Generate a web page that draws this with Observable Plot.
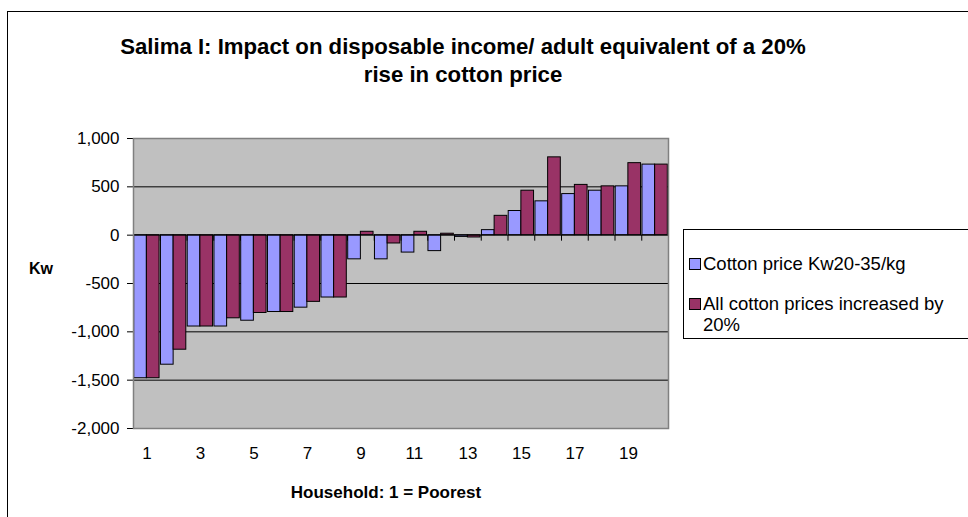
<!DOCTYPE html>
<html>
<head>
<meta charset="utf-8">
<script src="https://cdn.jsdelivr.net/npm/d3@7"></script>
<script src="https://cdn.jsdelivr.net/npm/@observablehq/plot@0.6"></script>
<style>
  html, body { margin: 0; padding: 0; background: #fff; }
  #chart { position: relative; width: 968px; height: 517px; overflow: hidden; font-family: "Liberation Sans", Arial, sans-serif; color: #000; }
  #chart svg { position: absolute; left: 0; top: 0; }
  .border { position: absolute; left: 7px; top: 11px; width: 1000px; height: 600px; border-top: 1.5px solid #000; border-left: 1.5px solid #000; }
  .title { position: absolute; left: 13px; width: 900px; top: 33px; text-align: center; font-weight: bold; font-size: 22.2px; line-height: 28px; }
  .ylab { position: absolute; left: 29px; top: 260px; font-weight: bold; font-size: 16px; }
  .xlab { position: absolute; left: 133px; width: 506px; top: 483px; text-align: center; font-weight: bold; font-size: 17px; }
  .legend { position: absolute; left: 683px; top: 229px; width: 320px; height: 108px; border: 1px solid #000; background: #fff; font-size: 18.5px; }
  .item { position: absolute; left: 5px; }
  .sw { position: absolute; left: 0; top: 5px; width: 10px; height: 10px; border: 1px solid #000; }
  .txt { position: absolute; left: 14px; white-space: nowrap; line-height: 21px; height: 21px; }
</style>
</head>
<body>
<div id="chart">
  <div class="border"></div>
</div>
<script>
// Households ranked from poorest (1) to richest (20)
const households = [1, 2, 3, 4, 5, 6, 7, 8, 9, 10, 11, 12, 13, 14, 15, 16, 17, 18, 19, 20];
// Change in disposable income per adult equivalent (Kw)
const cottonKw2035 = [-1480, -1340, -945, -945, -885, -795, -750, -645, -250, -250, -180, -165, -18, 52, 250, 350, 425, 460, 505, 730];
const allPlus20 = [-1480, -1185, -945, -860, -805, -795, -690, -645, 35, -86, 35, 15, -24, 200, 460, 805, 520, 505, 745, 730];
const seriesNames = ["Cotton price Kw20-35/kg", "All cotton prices increased by 20%"];
// legend text, wrapped the way the legend box breaks it
const legendLines = [["Cotton price Kw20-35/kg"], ["All cotton prices increased by", "20%"]];
const seriesColors = ["#9999FF", "#993366"];
const yTicks = [-2000, -1500, -1000, -500, 0, 500, 1000];
const xTicks = [1, 3, 5, 7, 9, 11, 13, 15, 17, 19];
const gridLines = [-1500, -1000, -500, 500];

const rowsA = households.map((h, i) => ({household: h, value: cottonKw2035[i]}));
const rowsB = households.map((h, i) => ({household: h, value: allPlus20[i]}));
const boundaries = [households[0] - 0.5, ...households.map(h => h + 0.5)];
const fmt = d3.format(",");

const chart = Plot.plot({
  width: 968,
  height: 517,
  marginLeft: 133,
  marginRight: 300,
  marginTop: 138,
  marginBottom: 89,
  style: {background: "transparent", fontFamily: "'Liberation Sans', Arial, sans-serif", fontSize: "17px", color: "#000"},
  x: {domain: [0.5, 20.5], ticks: xTicks, tickSize: 0, tickPadding: 18, label: null, tickFormat: d => String(d)},
  y: {domain: [-2000, 1000], ticks: yTicks, tickFormat: d => fmt(d).replace("\u2212", "-"), tickSize: 6, tickPadding: 8, label: null},
  marks: [
    Plot.frame({fill: "#C0C0C0", stroke: "none"}),
    Plot.ruleY(gridLines, {stroke: "#000", strokeWidth: 1}),
    Plot.rectY(rowsA, {x1: d => d.household - 0.5, x2: d => d.household, y1: 0, y2: "value",
      fill: seriesColors[0], stroke: "#000", strokeWidth: 1, insetLeft: 0.7}),
    Plot.rectY(rowsB, {x1: d => d.household, x2: d => d.household + 0.5, y1: 0, y2: "value",
      fill: seriesColors[1], stroke: "#000", strokeWidth: 1, insetRight: 0.7}),
    Plot.ruleY([0], {stroke: "#000", strokeWidth: 1}),
    Plot.ruleX(boundaries, {y1: 0, y2: 0, insetBottom: -6, stroke: "#000"}),
    Plot.frame({stroke: "#808080", strokeWidth: 1.5})
  ]
});
const root = document.getElementById("chart");
root.appendChild(chart);

function addDiv(cls, text, parent = root) {
  const el = document.createElement("div");
  el.className = cls;
  if (text != null) el.textContent = text;
  parent.appendChild(el);
  return el;
}
const title = addDiv("title");
title.innerHTML = "Salima I: Impact on disposable income/ adult equivalent of a 20%<br>rise in cotton price";
addDiv("ylab", "Kw");
addDiv("xlab", "Household: 1 = Poorest");

const legend = addDiv("legend");
const itemTops = [23, 63];
seriesNames.forEach((name, i) => {
  const item = addDiv("item", null, legend);
  item.style.top = itemTops[i] + "px";
  item.title = name;
  const sw = addDiv("sw", null, item);
  sw.style.background = seriesColors[i];
  legendLines[i].forEach((line, j) => {
    const t = addDiv("txt", line, item);
    t.style.top = (j * 21) + "px";
  });
});
</script>
</body>
</html>
